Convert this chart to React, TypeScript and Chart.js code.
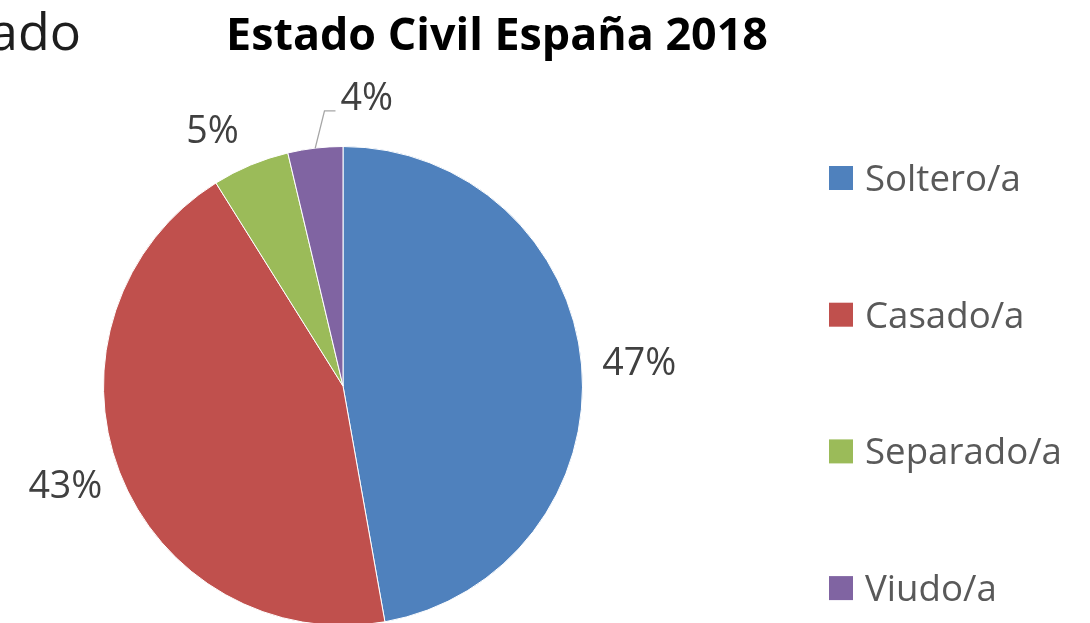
import React, { useEffect, useRef } from "react";
import { Chart, registerables } from "chart.js";

Chart.register(...registerables);

// ---- data ----
const categories = ["Soltero/a", "Casado/a", "Separado/a", "Viudo/a"];
const shares = [47.2, 43.9, 5.2, 3.7];
const shareLabels = ["47%", "43%", "5%", "4%"];
const sliceColors = ["#4F81BD", "#C0504D", "#9BBB59", "#8064A2"];
const titleText = "Estado Civil España 2018";
const fragmentText = "ado";

const FONT = '"Open Sans", "Noto Sans", sans-serif';
const CAP = 0.714;

function fitSize(ctx: CanvasRenderingContext2D, text: string, weight: string, target: number) {
  const base = 40;
  ctx.font = `${weight} ${base}px ${FONT}`;
  const w = ctx.measureText(text).width;
  return (base * target) / w;
}

const overlayPlugin = {
  id: "overlay",
  afterDraw(chart: any) {
    const ctx: CanvasRenderingContext2D = chart.ctx;
    ctx.save();

    // cropped fragment of a neighbouring title
    const fs = fitSize(ctx, fragmentText, "normal", 92);
    ctx.font = `normal ${fs}px ${FONT}`;
    ctx.fillStyle = "#1e1e1e";
    ctx.textAlign = "right";
    ctx.textBaseline = "alphabetic";
    ctx.fillText(fragmentText, 81, 50);

    // title
    const ts = fitSize(ctx, titleText, "bold", 542);
    ctx.font = `bold ${ts}px ${FONT}`;
    ctx.fillStyle = "#000000";
    ctx.textAlign = "center";
    ctx.fillText(titleText, 497, 34 + (ts * CAP) / 2);

    // data labels
    const ls = fitSize(ctx, "47%", "normal", 74);
    ctx.font = `normal ${ls}px ${FONT}`;
    ctx.fillStyle = "#404040";
    const meta = chart.getDatasetMeta(0);
    const nudges: Record<number, [number, number]> = { 2: [-20, -4], 3: [57, -17] };
    meta.data.forEach((arc: any, i: number) => {
      const { x, y, startAngle, endAngle, outerRadius } = arc.getProps(
        ["x", "y", "startAngle", "endAngle", "outerRadius"],
        true
      );
      const mid = (startAngle + endAngle) / 2;
      const dx = Math.cos(mid);
      const dy = Math.sin(mid);
      const text = shareLabels[i];
      const w = ctx.measureText(text).width;
      const h = ls * CAP;
      const gap = 21;
      let cx = x + dx * (outerRadius + gap) + (dx * w) / 2;
      let cy = y + dy * (outerRadius + gap) + (dy * h) / 2;
      const n = nudges[i];
      if (n) {
        cx += n[0];
        cy += n[1];
      }
      if (i === 3) {
        // leader line
        const sx = x + dx * outerRadius;
        const sy = y + dy * outerRadius;
        const ex = cx - w / 2 - 5;
        const ey = cy + 14;
        ctx.beginPath();
        ctx.moveTo(sx, sy);
        ctx.lineTo(ex - 11, ey);
        ctx.lineTo(ex, ey);
        ctx.strokeStyle = "#a6a6a6";
        ctx.lineWidth = 1.3;
        ctx.stroke();
      }
      ctx.textAlign = "center";
      ctx.textBaseline = "alphabetic";
      ctx.fillText(text, cx, cy + h / 2);
    });

    // legend
    const gs = fitSize(ctx, "Separado/a", "normal", 197);
    ctx.font = `normal ${gs}px ${FONT}`;
    const lx = 829;
    const ly0 = 178;
    const step = 136.7;
    const box = 24;
    categories.forEach((c, i) => {
      const cy = ly0 + i * step;
      ctx.fillStyle = sliceColors[i];
      ctx.fillRect(lx, cy - box / 2, box, box);
      ctx.fillStyle = "#595959";
      ctx.textAlign = "left";
      ctx.fillText(c, 865, cy + (gs * CAP) / 2);
    });

    ctx.restore();
  },
};

export default function App() {
  const ref = useRef<HTMLCanvasElement>(null);
  useEffect(() => {
    if (!ref.current) return;
    const chart = new Chart(ref.current, {
      type: "pie",
      data: {
        labels: categories,
        datasets: [
          {
            data: shares,
            backgroundColor: sliceColors,
            borderColor: "#ffffff",
            borderWidth: 1,
          },
        ],
      },
      options: {
        responsive: false,
        animation: false,
        events: [],
        layout: { padding: { left: 103, right: 507, top: 146, bottom: 14 } },
        plugins: {
          legend: { display: false },
          title: { display: false },
          tooltip: { enabled: false },
        },
      },
      plugins: [overlayPlugin],
    });
    return () => chart.destroy();
  }, []);
  return (
    <div
      style={{
        position: "fixed",
        left: 0,
        top: 0,
        width: 1090,
        height: 623,
        overflow: "hidden",
        background: "#ffffff",
      }}
    >
      <canvas ref={ref} width={1090} height={640} style={{ display: "block" }} />
    </div>
  );
}
